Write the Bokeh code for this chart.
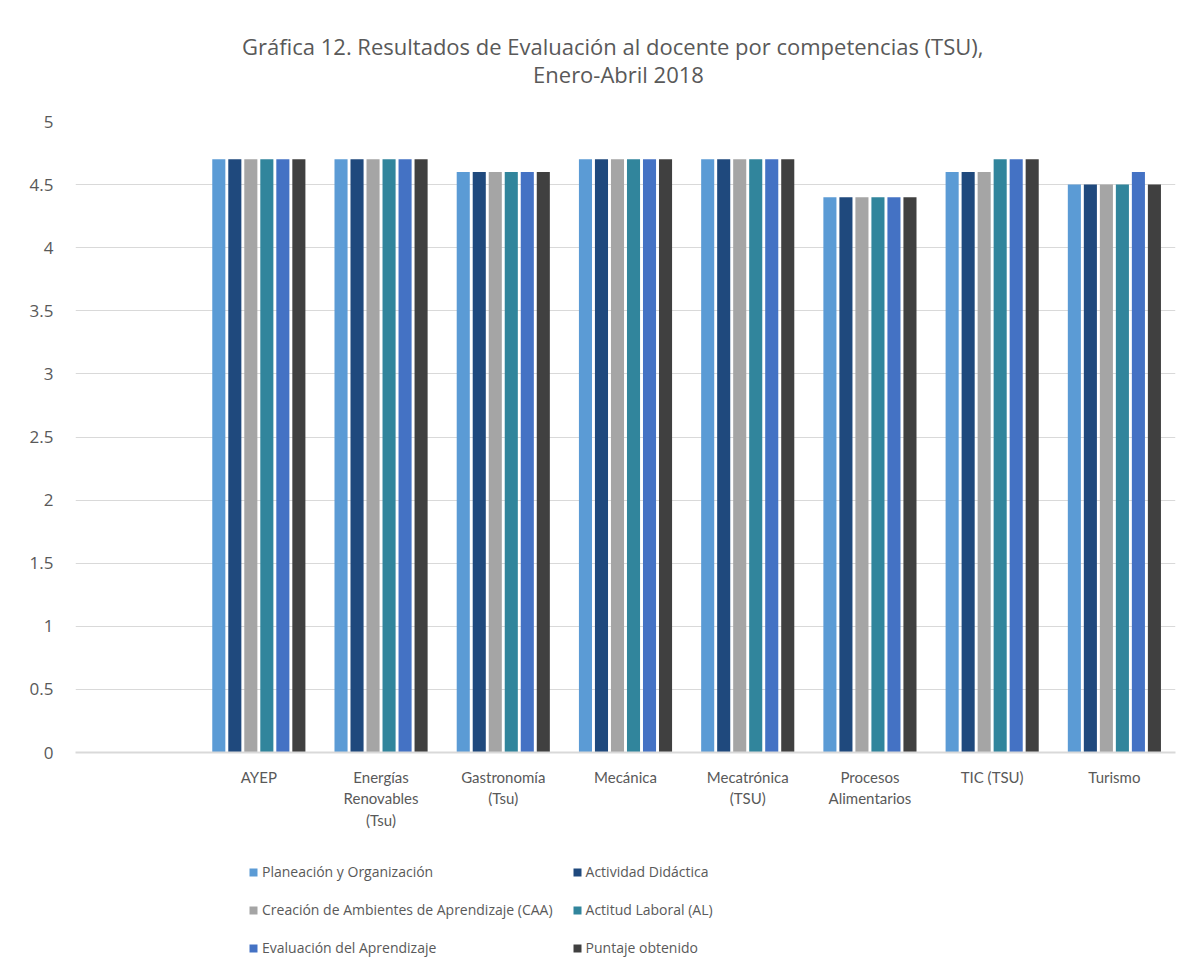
from bokeh.plotting import figure
from bokeh.models import FactorRange, Legend, LegendItem, ColumnDataSource, FixedTicker, Range1d, Label
from bokeh.layouts import column
from bokeh.transform import dodge
from bokeh.embed import file_html
from bokeh.resources import INLINE

categories = [" ", "AYEP", "Energías\nRenovables\n(Tsu)", "Gastronomía\n(Tsu)", "Mecánica",
              "Mecatrónica\n(TSU)", "Procesos\nAlimentarios", "TIC (TSU)", "Turismo"]
data_categories = categories[1:]

series_names = ["Planeación y Organización", "Actividad Didáctica",
                "Creación de Ambientes de Aprendizaje (CAA)", "Actitud Laboral (AL)",
                "Evaluación del Aprendizaje", "Puntaje obtenido"]

planeacion = [4.7, 4.7, 4.6, 4.7, 4.7, 4.4, 4.6, 4.5]
actividad = [4.7, 4.7, 4.6, 4.7, 4.7, 4.4, 4.6, 4.5]
creacion = [4.7, 4.7, 4.6, 4.7, 4.7, 4.4, 4.6, 4.5]
actitud = [4.7, 4.7, 4.6, 4.7, 4.7, 4.4, 4.7, 4.5]
evaluacion = [4.7, 4.7, 4.6, 4.7, 4.7, 4.4, 4.7, 4.6]
puntaje = [4.7, 4.7, 4.6, 4.7, 4.7, 4.4, 4.7, 4.5]

y_ticks = [0, 0.5, 1, 1.5, 2, 2.5, 3, 3.5, 4, 4.5, 5]
y_tick_labels = ["0", "0.5", "1", "1.5", "2", "2.5", "3", "3.5", "4", "4.5", "5"]

title_line1 = "Gráfica 12. Resultados de Evaluación  al docente por competencias  (TSU),"
title_line2 = "Enero-Abril 2018"

colors = ["#5B9BD5", "#1F497D", "#A5A5A5", "#31859C", "#4472C4", "#404040"]
keys = ["planeacion", "actividad", "creacion", "actitud", "evaluacion", "puntaje"]

source = ColumnDataSource(dict(cat=data_categories, planeacion=planeacion, actividad=actividad,
                               creacion=creacion, actitud=actitud, evaluacion=evaluacion,
                               puntaje=puntaje))

TXT = "#595959"
W = 1188
LEFT, RIGHT = 75, 1175
TITLE_H = 100

# ---- title strip (page pixel coordinates) ----
tt = figure(width=W, height=TITLE_H, x_range=Range1d(LEFT, RIGHT), y_range=Range1d(TITLE_H, 0),
            output_backend="svg", toolbar_location=None,
            min_border_left=LEFT, min_border_right=W - RIGHT, min_border_top=0, min_border_bottom=0)
tt.axis.visible = False
tt.grid.visible = False
tt.outline_line_color = None
for txt, yy in ((title_line1, 45), (title_line2, 73)):
    tt.add_layout(Label(x=618, y=yy, text=txt, text_align="center", text_baseline="middle",
                        text_font="Open Sans", text_font_size="22px", text_color=TXT))

# ---- main chart ----
p = figure(width=W, height=842 - TITLE_H, x_range=FactorRange(*categories, range_padding=0),
           y_range=Range1d(0, 5), output_backend="svg", toolbar_location=None,
           min_border_left=LEFT, min_border_right=W - RIGHT, min_border_top=121 - TITLE_H,
           min_border_bottom=90, title=None)

step = 0.131
renderers = []
for i, (k, c) in enumerate(zip(keys, colors)):
    r = p.vbar(x=dodge("cat", (i - 2.5) * step, range=p.x_range), top=k, width=0.107,
               source=source, color=c, line_color=None)
    renderers.append(r)

p.outline_line_color = None
p.xgrid.grid_line_color = None
p.ygrid.grid_line_color = "#D9D9D9"
p.ygrid.ticker = FixedTicker(ticks=y_ticks)

p.yaxis.ticker = FixedTicker(ticks=y_ticks)
p.yaxis.major_label_overrides = {t: l for t, l in zip(y_ticks, y_tick_labels)}
p.yaxis.axis_line_color = None
p.yaxis.major_tick_line_color = None
p.yaxis.major_tick_out = 0
p.yaxis.major_tick_in = 0
p.yaxis.minor_tick_line_color = None
p.yaxis.major_label_text_font = "Open Sans"
p.yaxis.major_label_text_font_size = "17px"
p.yaxis.major_label_text_color = TXT
p.yaxis.major_label_standoff = 22

p.xaxis.axis_line_color = "#D9D9D9"
p.xaxis.axis_line_width = 2
p.xaxis.major_tick_line_color = None
p.xaxis.major_tick_out = 0
p.xaxis.major_tick_in = 0
p.xaxis.minor_tick_line_color = None
p.xaxis.major_label_text_font = "Lato"
p.xaxis.major_label_text_font_size = "15px"
p.xaxis.major_label_text_color = TXT
p.xaxis.major_label_standoff = 15

# ---- legend strip ----
lg = figure(width=W, height=125, x_range=p.x_range, y_range=Range1d(100, 101),
            output_backend="svg", toolbar_location=None,
            min_border_left=LEFT, min_border_right=W - RIGHT, min_border_top=0, min_border_bottom=0)
lg.axis.visible = False
lg.grid.visible = False
lg.outline_line_color = None
lg_renderers = []
for i, (k, c) in enumerate(zip(keys, colors)):
    r = lg.vbar(x=dodge("cat", (i - 2.5) * step, range=p.x_range), top=k, width=0.107,
                source=source, color=c, line_color=None)
    lg_renderers.append(r)

order = [0, 2, 4, 1, 3, 5]  # filled column by column
legend = Legend(items=[LegendItem(label=series_names[j], renderers=[lg_renderers[j]]) for j in order],
                ncols=2)
legend.label_text_font = "Open Sans"
legend.label_text_font_size = "14px"
legend.label_text_color = TXT
legend.glyph_width = 10
legend.glyph_height = 10
legend.label_standoff = 4
legend.spacing = 19
legend.padding = 0
legend.margin = 0
legend.border_line_color = None
legend.background_fill_alpha = 0
legend.location = (173, 10)
lg.add_layout(legend, "center")

layout = column(tt, p, lg, spacing=0)
open("out.html", "w").write(file_html(layout, INLINE))
